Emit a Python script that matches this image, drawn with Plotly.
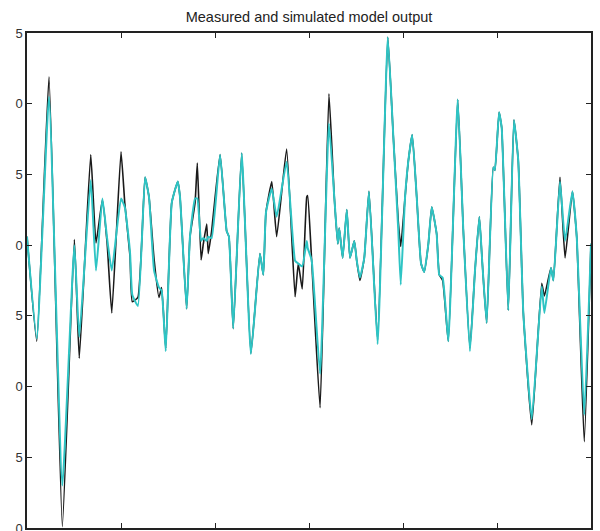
import plotly.graph_objects as go

# sample positions (arbitrary x units, 0..300)
x_vals = [0, 5.2, 11.7, 18.8, 25.2, 27.8, 33.9, 36.7, 40.1, 42.6, 45.1, 50.0, 52.0, 54.8, 56.0, 59.0,
          62.8, 64.9, 67.6, 70.2, 71.6, 73.8, 77.0, 80.2, 81.4, 84.9, 86.7, 89.4, 90.6, 92.6, 93.8,
          95.6, 96.4, 98.2, 102.7, 106.2, 107.4, 109.7, 114.2, 119.1, 123.9, 125.7, 127.1, 130.2,
          132.8, 138.1, 142.6, 144.3, 146.4, 148.8, 149.3, 151.4, 155.9, 160.6, 163.5, 165.3, 166.1,
          167.9, 170.1, 171.8, 174.1, 175.4, 177.1, 179.4, 181.9, 186.5, 191.9, 194.8, 197.5, 198.8,
          201.1, 202.8, 204.9, 207.3, 209.6, 211.3, 213.5, 215.3, 217.9, 219.3, 221.1, 224.1, 229.1,
          232.1, 235.6, 238.3, 240.6, 242.2, 244.5, 248.0, 248.9, 251.1, 252.5, 256.0, 259.0, 261.3,
          264.0, 268.5, 273.8, 275.2, 278.7, 280.0, 283.5, 286.2, 290.1, 292.4, 296.4, 300]

measured = [0.6, -6.8, 11.9, -19.9, 0.4, -8.0, 6.4, 0.15, 3.2, 0.15, -4.8, 6.6, 3.0, -0.8, -4.0, -3.7,
            4.8, 3.4, -1.0, -3.7, -3.0, -7.3, 3.0, 4.5, 3.4, -4.5, 0.6, 3.0, 5.8, -1.05, 0.1,
            1.5, -0.6, 1.0, 6.4, 1.0, 0.6, -5.9, 6.5, -7.65, -0.6, -2.1, 2.3, 4.5,
            0.6, 6.8, -3.65, -1.3, -3.1, 3.4, 3.5, -1.05, -11.5, 10.7, 3.3, 0.1, 1.2,
            -0.9, 2.5, -0.9, 0.3, -1.1, -2.5, -0.9, 3.8, -6.7, 14.7, 7.8, 1.65, -0.1,
            3.4, 5.9, 7.8, 3.4, -1.3, -1.9, 0.1, 2.7, 0.8, -2.1, -2.5, -6.8, 10.3,
            1.0, -7.3, -1.8, 2.0, -1.3, -5.5, 5.5, 5.3, 9.4, 8.3, -4.6, 8.85, 6.0,
            -4.8, -12.7, -2.7, -3.6, -1.6, -2.5, 4.8, -0.9, 3.8, 0.6, -13.9, 0.1]

simulated = [0.6, -6.6, 10.5, -17.0, 0.0, -6.5, 4.6, -1.8, 3.3, 0.5, -1.8, 3.3, 2.7, -0.5, -3.5, -4.3,
             4.8, 3.4, -1.8, -3.0, -3.2, -7.5, 3.0, 4.5, 3.4, -4.5, 0.6, 3.3, 3.3, 0.3, 0.5,
             0.3, 0.6, 0.5, 6.4, 1.0, 0.6, -5.9, 6.5, -7.7, -0.6, -2.1, 2.3, 4.0,
             2.0, 5.9, -1.1, -1.3, -1.5, 0.3, -0.2, -1.05, -9.1, 8.6, 3.3, 0.1, 1.2,
             -0.9, 2.5, -0.9, 0.3, -1.1, -2.3, -0.9, 3.8, -7.0, 14.7, 7.8, 1.0, -2.8,
             3.4, 5.9, 7.8, 3.4, -1.3, -1.9, 0.1, 2.7, 0.8, -2.1, -2.3, -6.8, 10.3,
             1.0, -7.5, -1.8, 2.0, -1.3, -5.5, 5.5, 5.3, 9.4, 8.3, -4.6, 8.85, 6.0,
             -4.8, -12.3, -2.9, -4.8, -1.6, -2.5, 4.5, 0.3, 3.8, 0.6, -12.0, 0.1]

y_ticks = [15, 10, 5, 0, -5, -10, -15, -20]
y_tick_text = ["5", "0", "5", "0", "5", "0", "5", "0"]
x_ticks = [0, 50, 100, 150, 200, 250, 300]

fig = go.Figure()
fig.add_trace(go.Scatter(x=x_vals, y=measured, mode="lines", name="measured",
                         line=dict(color="#1a1a1a", width=1.6, shape="spline", smoothing=0.4)))
fig.add_trace(go.Scatter(x=x_vals, y=simulated, mode="lines", name="simulated",
                         line=dict(color="#2ec4c4", width=2, shape="spline", smoothing=0.4)))

fig.update_layout(
    width=600, height=531,
    margin=dict(l=27, r=9, t=33, b=3, autoexpand=False),
    paper_bgcolor="white", plot_bgcolor="white",
    showlegend=False,
    title=dict(text="Measured and simulated model output", x=0.515, xanchor="center",
               y=0.978, yanchor="top",
               font=dict(family="Liberation Sans, Arial", size=14.5, color="#222")),
    xaxis=dict(range=[0, 300], tickvals=x_ticks, showticklabels=False, ticks="inside",
               ticklen=5, tickcolor="#222", showgrid=False, zeroline=False, automargin=False,
               showline=True, linecolor="#222", linewidth=1.5, mirror="ticks"),
    yaxis=dict(range=[-20, 15], tickvals=y_ticks, ticktext=y_tick_text, ticks="inside",
               ticklen=5, tickcolor="#222", showgrid=False, zeroline=False, automargin=False,
               showline=True, linecolor="#222", linewidth=1.5, mirror="ticks",
               ticklabeloverflow="allow",
               tickfont=dict(family="Liberation Sans, Arial", size=13, color="#333")),
)

fig.write_html("out.html")
